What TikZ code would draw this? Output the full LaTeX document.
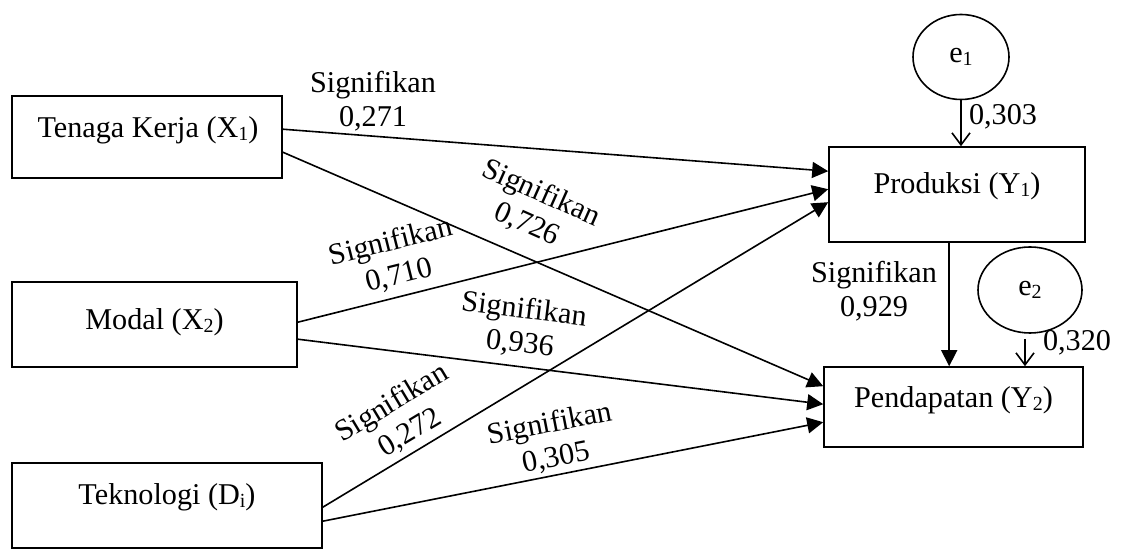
\documentclass[tikz,border=0pt]{standalone}
\usepackage{fontspec}
\setmainfont{Liberation Serif}
\usetikzlibrary{arrows.meta,shapes.geometric,calc}
\newcommand\mysub[1]{\raisebox{-0.12em}{\fontsize{10}{10}\selectfont #1}}
\begin{document}
\begin{tikzpicture}[x=0.5pt,y=-0.5pt,
  font=\fontsize{15.1}{17.2}\selectfont,
  box/.style={draw,line width=0.8pt,inner sep=0pt},
  err/.style={draw,ellipse,line width=0.8pt,inner sep=0pt},
  path/.style={line width=0.8pt,-{Triangle[length=8pt,width=8pt]}},
  epath/.style={line width=0.8pt,-{Straight Barb[length=6pt,width=9pt]}},
  lab/.style={align=center,inner sep=0pt}
]
\useasboundingbox (0,0) rectangle (1125,550);
% boxes
\node[box,minimum width=135pt,minimum height=41pt] (x1) at (147,137) {};
\node[box,minimum width=142.5pt,minimum height=42.5pt] (x2) at (154.5,324.5) {};
\node[box,minimum width=155pt,minimum height=42.5pt] (x3) at (167,505.5) {};
\node[box,minimum width=128pt,minimum height=47.5pt] (y1) at (957,194.5) {};
\node[box,minimum width=129.5pt,minimum height=40pt] (y2) at (953.5,407) {};
% box texts
\node (x1t) at (148,130) {Tenaga Kerja (X\mysub{1})};
\node (x2t) at (154.5,322) {Modal (X\mysub{2})};
\node (x3t) at (167,497) {Teknologi (D\mysub{i})};
\node (y1t) at (957,186) {Produksi (Y\mysub{1})};
\node (y2t) at (953.5,400) {Pendapatan (Y\mysub{2})};
% error terms
\node[err,minimum width=48pt,minimum height=42.5pt] (e1) at (961,57) {e\mysub{1}};
\node[err,minimum width=52pt,minimum height=43pt] (e2) at (1030,290) {e\mysub{2}};
\coordinate (e2a) at ($(e2.south)+(-5,5)$);
% paths
\draw[path] ($(x1.north east)+(0,34)$) -- ($(y1.north west)+(0,25)$);
\draw[path] ($(x1.north east)+(0,57)$) -- ($(y2.north west)+(0,20)$);
\draw[path] ($(x2.north east)+(0,41)$) -- ($(y1.north west)+(0,43)$);
\draw[path] ($(x2.north east)+(0,58)$) -- ($(y2.north west)+(0,38)$);
\draw[path] ($(x3.north east)+(0,45)$) -- ($(y1.north west)+(0,56)$);
\draw[path] ($(x3.north east)+(0,59)$) -- ($(y2.north west)+(0,56)$);
\draw[path] ($(y1.south west)+(121,0)$) -- ($(y2.north west)+(126,0)$);
\draw[epath] (e1.south) -- (e1.south |- y1.north);
\draw[epath] (e2a) -- (e2a |- y2.north);
% labels
\node[lab] (l1) at (373,101) {Signifikan\\0,271};
\node[lab,rotate=-24] (l2) at (534,209) {Signifikan\\0,726};
\node[lab,rotate=14] (l3) at (395,259) {Signifikan\\0,710};
\node[lab,rotate=-7] (l4) at (522,327) {Signifikan\\0,936};
\node[lab,rotate=31] (l5) at (401,418) {Signifikan\\0,272};
\node[lab,rotate=11] (l6) at (553,441) {Signifikan\\0,305};
\node[lab] (l7) at (874,291) {Signifikan\\0,929};
\node[lab] (l8) at (1003,117) {0,303};
\node[lab] (l9) at (1077,343) {0,320};
\end{tikzpicture}
\end{document}
